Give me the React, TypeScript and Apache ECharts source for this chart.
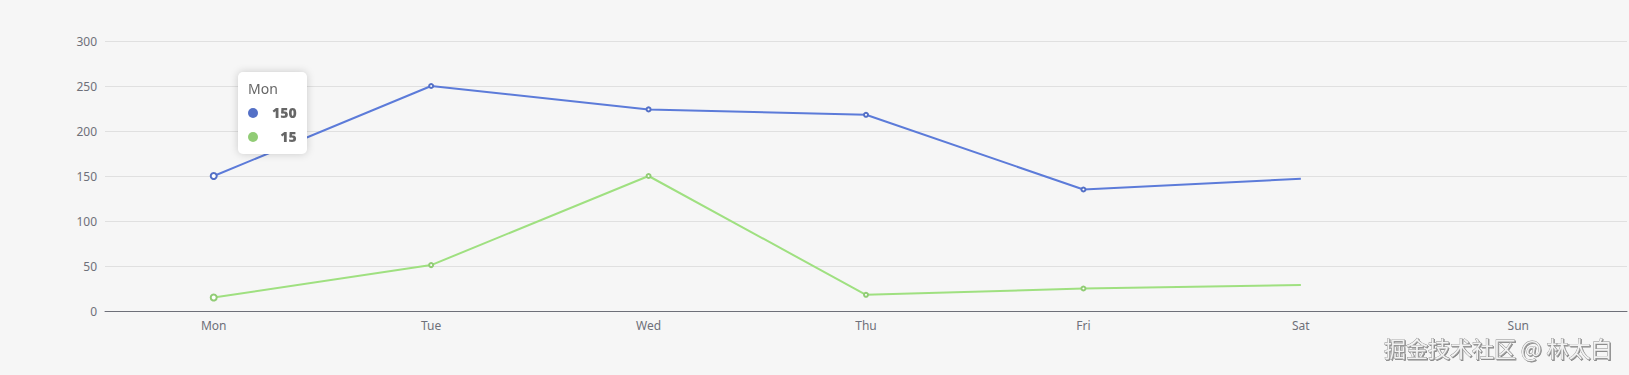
import React, { useEffect, useRef } from "react";
import * as echarts from "echarts";

const categories = ["Mon", "Tue", "Wed", "Thu", "Fri", "Sat", "Sun"];
const seriesA = [150, 250, 224, 218, 135, 147];
const seriesB = [15, 51, 150, 18, 25, 29];
const watermark = "掘金技术社区 @ 林太白";

export default function App() {
  const ref = useRef<HTMLDivElement>(null);
  useEffect(() => {
    document.body.style.margin = "0";
    const chart = echarts.init(ref.current!, null, { renderer: "svg" });
    const toData = (arr: number[]) =>
      arr.map((v, i) =>
        i === arr.length - 1 ? { value: v, symbol: "none" } : { value: v }
      );
    chart.setOption({
      animation: false,
      backgroundColor: "#f6f6f6",
      textStyle: { fontFamily: "'Noto Sans', sans-serif" },
      grid: { left: 105, right: 2, top: 41, bottom: 64 },
      tooltip: {
        trigger: "axis",
        alwaysShowContent: true,
        axisPointer: { type: "none" },
        position: [238, 72],
        borderWidth: 0,
        borderRadius: 5,
        extraCssText: "box-shadow: 0 0 8px rgba(0,0,0,0.18);",
        textStyle: { color: "#666", fontSize: 14 },
      },
      xAxis: {
        type: "category",
        data: categories,
        axisLine: { lineStyle: { color: "#6e7079" } },
        axisLabel: { color: "#6e7079", fontSize: 12 },
      },
      yAxis: {
        type: "value",
        min: 0,
        max: 300,
        interval: 50,
        axisLabel: { color: "#6e7079", fontSize: 12 },
        splitLine: { lineStyle: { color: "#e0e0e0" } },
      },
      series: [
        {
          name: "",
          type: "line",
          data: toData(seriesA),
          color: "#5470c6",
          symbol: "emptyCircle",
          symbolSize: 4,
          lineStyle: { width: 2 },
        },
        {
          name: "",
          type: "line",
          data: toData(seriesB),
          color: "#91cc75",
          symbol: "emptyCircle",
          symbolSize: 4,
          lineStyle: { width: 2 },
        },
      ],
      graphic: [
        {
          type: "text",
          right: 16,
          top: 336,
          style: {
            text: watermark,
            font: "22px 'Noto Sans CJK SC', sans-serif",
            fill: "#f2f2f2",
            stroke: "#8a8a8a",
            lineWidth: 0.8,
            textShadowColor: "rgba(0,0,0,0.45)",
            textShadowBlur: 1,
            textShadowOffsetX: 1,
            textShadowOffsetY: 1,
          },
        },
      ],
    });
    chart.dispatchAction({ type: "showTip", seriesIndex: 0, dataIndex: 0 });
    return () => chart.dispose();
  }, []);
  return <div ref={ref} style={{ width: 1629, height: 375 }} />;
}
